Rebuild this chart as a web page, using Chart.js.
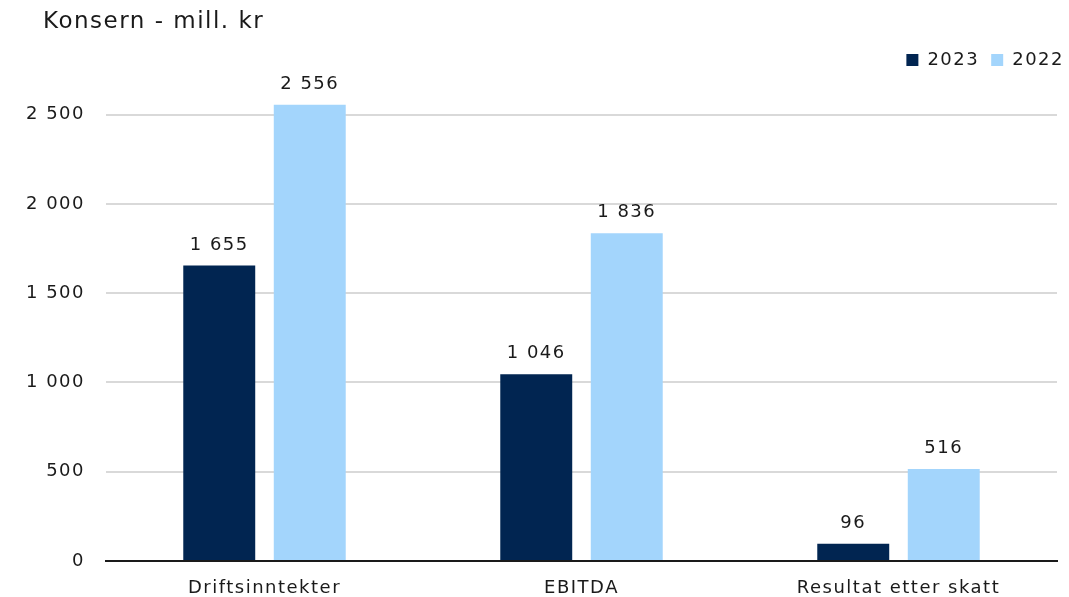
<!DOCTYPE html>
<html>
<head>
<meta charset="utf-8">
<script src="https://cdn.jsdelivr.net/npm/chart.js@4/dist/chart.umd.min.js"></script>
<style>
html,body{margin:0;padding:0;background:#fff;}
#c{display:block;}
</style>
</head>
<body>
<canvas id="c" width="1069" height="597"></canvas>
<script>
const categories = ['Driftsinntekter', 'EBITDA', 'Resultat etter skatt'];
const values2023 = [1655, 1046, 96];
const values2022 = [2556, 1836, 516];
const seriesLabels = ['2023', '2022'];
const yTickValues = [0, 500, 1000, 1500, 2000, 2500];
const titleText = 'Konsern - mill. kr';

const FONT = "'DejaVu Sans', sans-serif";
const fmt = v => String(v).replace(/\B(?=(\d{3})+(?!\d))/g, ' ');

const spacing = {
  id: 'spacing',
  beforeInit(chart) { chart.ctx.letterSpacing = '1.5px'; },
  beforeUpdate(chart) { chart.ctx.letterSpacing = '1.5px'; },
  beforeDraw(chart) { chart.ctx.letterSpacing = '1.5px'; }
};

const titleLeft = {
  id: 'titleLeft',
  afterDraw(chart) {
    const ctx = chart.ctx;
    ctx.save();
    ctx.font = '23px ' + FONT;
    ctx.fillStyle = '#1a1a1a';
    ctx.textAlign = 'left';
    ctx.textBaseline = 'middle';
    ctx.fillText(titleText, 43, 22);
    ctx.restore();
  }
};

const valueLabels = {
  id: 'valueLabels',
  afterDatasetsDraw(chart) {
    const ctx = chart.ctx;
    ctx.save();
    ctx.font = '18px ' + FONT;
    ctx.fillStyle = '#1a1a1a';
    ctx.textAlign = 'center';
    ctx.textBaseline = 'alphabetic';
    chart.data.datasets.forEach((ds, i) => {
      chart.getDatasetMeta(i).data.forEach((bar, j) => {
        ctx.fillText(fmt(ds.data[j]), bar.x, bar.y - 16);
      });
    });
    ctx.restore();
  }
};

new Chart(document.getElementById('c'), {
  type: 'bar',
  data: {
    labels: categories,
    datasets: [
      { label: seriesLabels[0], data: values2023, backgroundColor: '#012551' },
      { label: seriesLabels[1], data: values2022, backgroundColor: '#a3d5fc' }
    ]
  },
  options: {
    responsive: false,
    animation: false,
    devicePixelRatio: 1,
    layout: { padding: { left: 20, right: -7, top: 39, bottom: 0 } },
    datasets: { bar: { categoryPercentage: 0.571, barPercentage: 0.795 } },
    plugins: {
      tooltip: { enabled: false },
      title: { display: false },
      legend: {
        position: 'top',
        align: 'end',
        labels: {
          color: '#1a1a1a',
          font: { family: FONT, size: 18 },
          boxWidth: 12,
          boxHeight: 12,
          padding: 12
        }
      }
    },
    scales: {
      x: {
        grid: { display: false },
        border: { display: true, color: '#1a1a1a', width: 2 },
        ticks: { color: '#1a1a1a', font: { family: FONT, size: 18 }, padding: 9, maxRotation: 0 },
        afterFit: s => { s.height = 36; }
      },
      y: {
        min: 0,
        max: 2700,
        grid: { color: '#d9d9d9', lineWidth: 2, drawTicks: false },
        border: { display: false },
        ticks: {
          autoSkip: false,
          padding: 21,
          color: '#1a1a1a',
          font: { family: FONT, size: 18 },
          callback: v => fmt(v)
        },
        afterBuildTicks: s => { s.ticks = yTickValues.map(v => ({ value: v })); },
        afterFit: s => { s.width = 86; }
      },
      yR: {
        position: 'right',
        display: true,
        grid: { display: false },
        border: { display: false },
        ticks: { display: false },
        afterFit: s => { s.width = 19; }
      }
    }
  },
  plugins: [spacing, titleLeft, valueLabels]
});
</script>
</body>
</html>
